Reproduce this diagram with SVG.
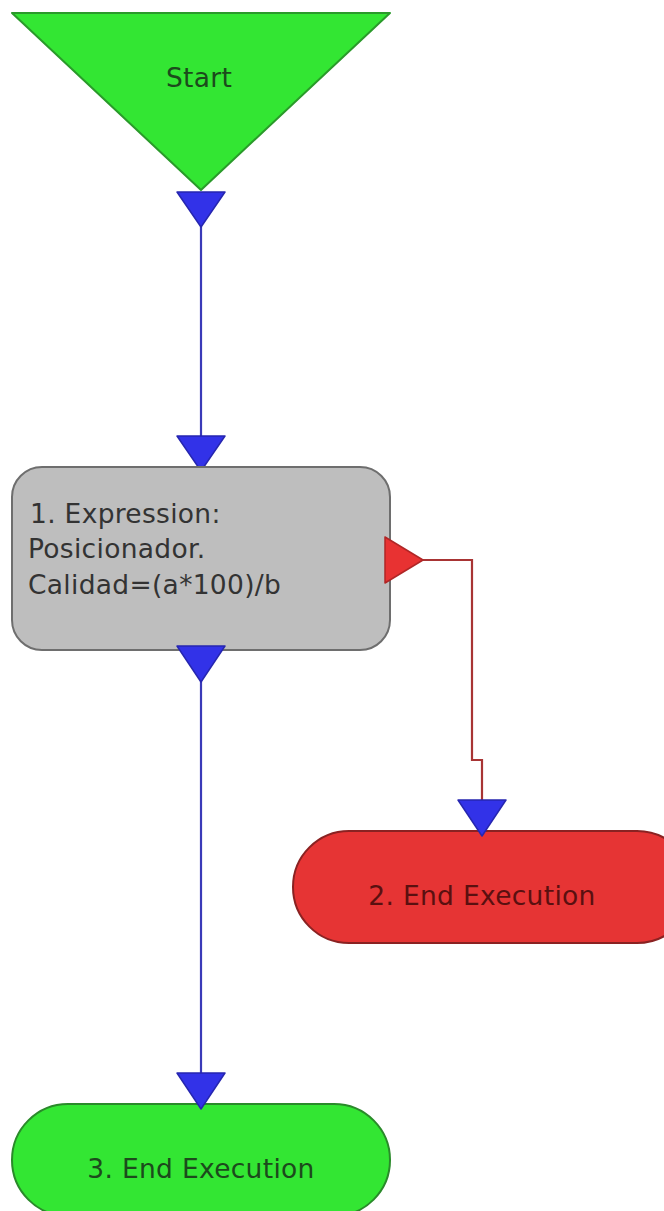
<svg xmlns="http://www.w3.org/2000/svg" width="664" height="1211" viewBox="0 0 664 1211">
  <style>
    .lbl { font-family: "DejaVu Sans", Verdana, sans-serif; font-size: 26.5px; letter-spacing: 0.3px; }
    .blue-line { fill: none; stroke: #3a3ab8; stroke-width: 2.2; }
    .red-line { fill: none; stroke: #a83434; stroke-width: 2.2; }
    .blue-head { fill: #3232e8; stroke: #2626b0; stroke-width: 1.5; stroke-linejoin: round; }
    .red-head { fill: #e83232; stroke: #b02626; stroke-width: 1.5; stroke-linejoin: round; }
  </style>

  <!-- connectors -->
  <g id="connectors">
    <line class="blue-line" x1="201" y1="220" x2="201" y2="440"/>
    <line class="blue-line" x1="201" y1="680" x2="201" y2="1076"/>
    <polyline class="red-line" points="420,560 472,560 472,760 482,760 482,804"/>
  </g>

  <!-- start -->
  <g id="start">
    <polygon points="12,13 390,13 201,190" fill="#33e633" stroke="#2a9a2a" stroke-width="2" stroke-linejoin="round"/>
    <text class="lbl" x="199" y="87" text-anchor="middle" fill="#1c4a1c">Start</text>
    <polygon class="blue-head" points="177,192 225,192 201,227"/>
  </g>

  <!-- 1. expression -->
  <g id="node1">
    <polygon class="blue-head" points="177,436 225,436 201,471"/>
    <rect x="12" y="467" width="378" height="183" rx="30" ry="30" fill="#bebebe" stroke="#6e6e6e" stroke-width="2"/>
    <text class="lbl" fill="#333333">
      <tspan x="30" y="523">1. Expression:</tspan>
      <tspan x="28" y="558">Posicionador.</tspan>
      <tspan x="28" y="594">Calidad=(a*100)/b</tspan>
    </text>
    <polygon class="blue-head" points="177,646 225,646 201,682"/>
    <polygon class="red-head" points="385,537 385,583 423,560"/>
  </g>

  <!-- 2. end execution -->
  <g id="node2">
    <rect x="293" y="831" width="400" height="112" rx="56" ry="56" fill="#e63434" stroke="#8a2222" stroke-width="2"/>
    <text class="lbl" x="482" y="905" text-anchor="middle" fill="#5a1010">2. End Execution</text>
    <polygon class="blue-head" points="458,800 506,800 482,836"/>
  </g>

  <!-- 3. end execution -->
  <g id="node3">
    <rect x="12" y="1104" width="378" height="112" rx="56" ry="56" fill="#33e633" stroke="#2a8a2a" stroke-width="2"/>
    <text class="lbl" x="201" y="1178" text-anchor="middle" fill="#1c4a1c">3. End Execution</text>
    <polygon class="blue-head" points="177,1073 225,1073 201,1109"/>
  </g>
</svg>
